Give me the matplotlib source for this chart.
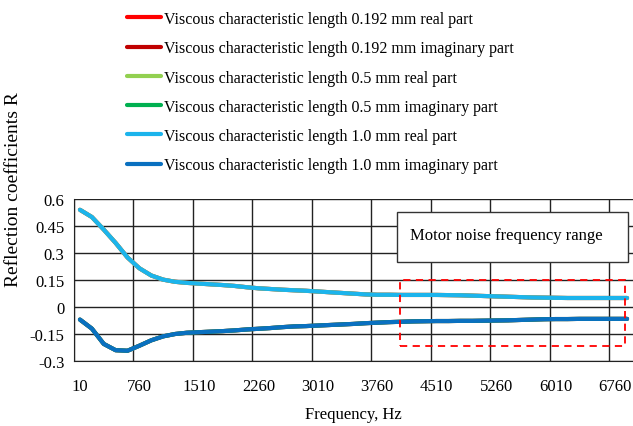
import matplotlib
matplotlib.use("Agg")
import matplotlib.pyplot as plt
from matplotlib.patches import Rectangle

plt.rcParams['font.family'] = ['Liberation Serif', 'DejaVu Serif']

# frequency categories (Hz), every 150 Hz
freq = list(range(10, 6911, 150))
real_part = [0.54, 0.50, 0.43, 0.356, 0.275, 0.215, 0.175, 0.152, 0.140, 0.134,
             0.130, 0.126, 0.122, 0.117, 0.110, 0.104, 0.100, 0.096, 0.093, 0.090,
             0.086, 0.082, 0.078, 0.074, 0.070, 0.068, 0.068, 0.067, 0.067, 0.067,
             0.067, 0.066, 0.065, 0.063, 0.061, 0.059, 0.057, 0.055, 0.053, 0.052,
             0.051, 0.050, 0.050, 0.050, 0.050, 0.050, 0.050]
imag_part = [-0.07, -0.12, -0.205, -0.24, -0.243, -0.215, -0.185, -0.163, -0.150, -0.143,
             -0.140, -0.137, -0.134, -0.130, -0.125, -0.121, -0.117, -0.112, -0.108, -0.106,
             -0.103, -0.100, -0.097, -0.094, -0.090, -0.087, -0.084, -0.082, -0.080, -0.079,
             -0.078, -0.078, -0.077, -0.077, -0.076, -0.075, -0.074, -0.072, -0.070, -0.068,
             -0.067, -0.067, -0.066, -0.066, -0.066, -0.066, -0.066]

labels = ["Viscous characteristic length 0.192 mm real part",
          "Viscous characteristic length 0.192 mm imaginary part",
          "Viscous characteristic length 0.5 mm real part",
          "Viscous characteristic length 0.5 mm imaginary part",
          "Viscous characteristic length 1.0 mm real part",
          "Viscous characteristic length 1.0 mm imaginary part"]
colors = ['#FF0000', '#C00000', '#92D050', '#00B050', '#1CB4EC', '#0A70C0']

xticks = [10, 760, 1510, 2260, 3010, 3760, 4510, 5260, 6010, 6760]
yticks = [-0.3, -0.15, 0, 0.15, 0.3, 0.45, 0.6]
ytick_labels = ['-0.3', '-0.15', '0', '0.15', '0.3', '0.45', '0.6']

# motor noise range box (Hz, R) and the caption box above it
noise_x = [4050, 6890]
noise_y = [-0.218, 0.15]
caption_x = [4012, 6917]
caption_y = [0.25, 0.528]

half = 75  # half a category width
fig = plt.figure(figsize=(6.33, 4.27), dpi=100)
ax = fig.add_axes([74 / 633, 65 / 427, (633 - 74) / 633, 162 / 427])

handles = []
for i, (lab, c) in enumerate(zip(labels, colors)):
    vals = real_part if i % 2 == 0 else imag_part
    h, = ax.plot(freq, vals, color=c, lw=3, solid_capstyle='round', zorder=3)
    handles.append(h)

ax.set_xlim(freq[0] - half, freq[-1] + half)
ax.set_ylim(-0.3, 0.6)
ax.set_xticks(xticks)
ax.set_xticklabels([str(t) for t in xticks])
ax.set_xticks([t - half for t in xticks], minor=True)
ax.set_yticks(yticks)
ax.set_yticklabels(ytick_labels)
ax.tick_params(which='both', length=0, labelsize=12)
ax.tick_params(axis='x', pad=12)
ax.tick_params(axis='y', pad=7)
ax.grid(True, axis='y', color='#222222', lw=1)
ax.grid(True, axis='x', which='minor', color='#222222', lw=1)
for s in ax.spines.values():
    s.set_visible(False)
ax.spines['left'].set_visible(True)
ax.spines['bottom'].set_visible(True)
ax.spines['left'].set_color('#222222')
ax.spines['bottom'].set_color('#222222')

ax.set_xlabel('Frequency, Hz', fontsize=12, labelpad=9)
fig.text(14 / 633, 1 - 190 / 427, 'Reflection coefficients R', rotation=90,
         ha='center', va='center', fontsize=14)

ax.add_patch(Rectangle((noise_x[0], noise_y[0]), noise_x[1] - noise_x[0],
                       noise_y[1] - noise_y[0], fill=False, ec='#FF0000', lw=1.3,
                       ls=(0, (4, 3)), zorder=4))
ax.add_patch(Rectangle((caption_x[0], caption_y[0]), caption_x[1] - caption_x[0],
                       caption_y[1] - caption_y[0], fc='white', ec='#333333', lw=1,
                       zorder=5))
ax.text(5389, 0.40, 'Motor noise frequency range', ha='center', va='center',
        fontsize=12, zorder=6)

fig.legend(handles, labels, loc='upper left', bbox_to_anchor=(127 / 633, 1 - 12 / 427),
           frameon=False, fontsize=11.5, handlelength=2.1, handletextpad=0.2,
           labelspacing=0.83, borderpad=0, borderaxespad=0)

fig.savefig('out.png', dpi=100)
